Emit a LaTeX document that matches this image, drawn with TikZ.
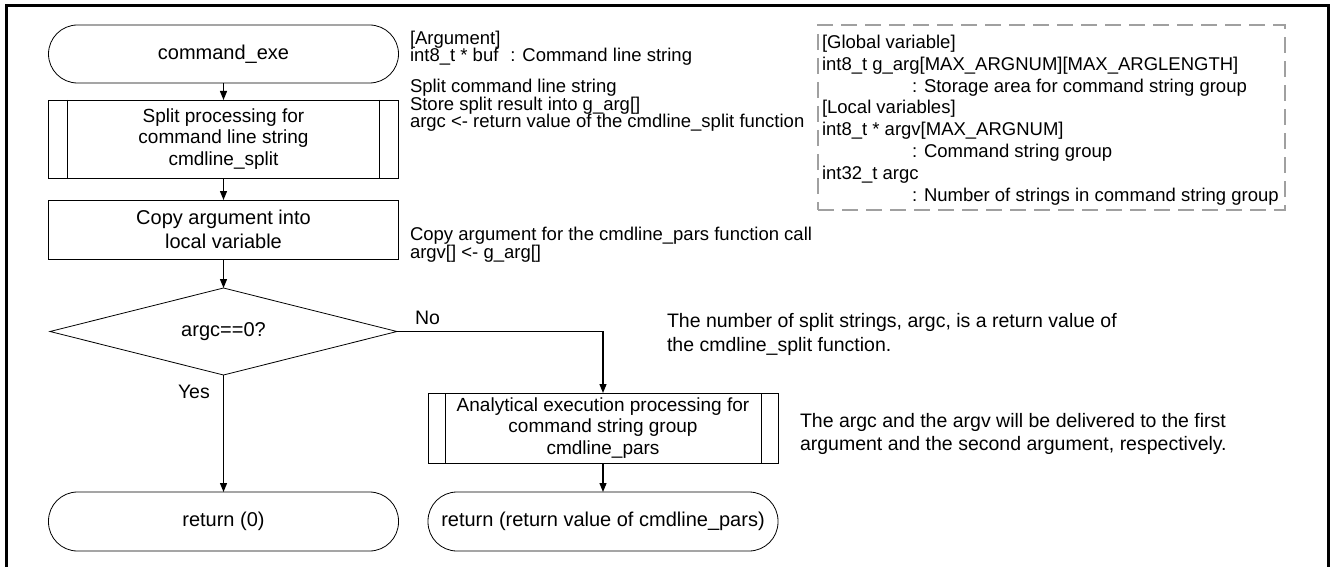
\documentclass[tikz,border=0pt]{standalone}
\usepackage{fontspec}
\setmainfont{Liberation Sans}
\usetikzlibrary{shapes.geometric,arrows.meta}
\definecolor{boxgray}{RGB}{160,160,160}
\begin{document}
\begin{tikzpicture}[x=1pt,y=-1pt,
  every node/.style={inner sep=0pt, outer sep=0pt},
  term/.style={draw, line width=0.8pt, rounded corners=29pt, minimum width=350pt, minimum height=58pt, font=\fontsize{20}{22}\selectfont, align=center},
  proc/.style={draw, line width=0.8pt, minimum width=350pt, font=\fontsize{20}{23.5}\selectfont, align=center},
  pre/.style={draw, line width=0.8pt, minimum width=350pt, font=\fontsize{19}{21.5}\selectfont, align=center},
  decision/.style={draw, diamond, aspect=4, line width=0.8pt, minimum width=347pt, minimum height=87pt, font=\fontsize{20}{22}\selectfont},
  flow/.style={line width=1.2pt, -{Triangle[length=9pt,width=7pt]}},
  note/.style={anchor=base west, font=\fontsize{18.5}{18}\selectfont},
  bignote/.style={anchor=base west, font=\fontsize{19.5}{22}\selectfont},
]
\useasboundingbox (0,0) rectangle (1330,567);
% outer frame
\draw[line width=3pt] (6.5,567) -- (6.5,5.5) -- (1328.5,5.5) -- (1328.5,567);

% flowchart nodes
\node[term] (start) at (223.5,54) {command\_exe};
\node[pre, minimum height=78pt] (split) at (223.5,139) {Split processing for\\command line string\\cmdline\_split};
\draw[line width=0.8pt] ([xshift=19pt]split.north west) -- ([xshift=19pt]split.south west);
\draw[line width=0.8pt] ([xshift=-19pt]split.north east) -- ([xshift=-19pt]split.south east);
\node[proc, minimum height=59pt] (copy) at (223.5,229.5) {Copy argument into\\local variable};
\node[decision] (cond) at (223.5,331.5) {argc==0?};
\node[term, minimum height=59pt] (ret0) at (223.5,521.5) {return (0)};
\node[pre, minimum height=70pt] (ana) at (603,428) {Analytical execution processing for\\command string group\\cmdline\_pars};
\draw[line width=0.8pt] ([xshift=17pt]ana.north west) -- ([xshift=17pt]ana.south west);
\draw[line width=0.8pt] ([xshift=-17pt]ana.north east) -- ([xshift=-17pt]ana.south east);
\node[term, minimum height=59pt] (ret1) at (603,521.5) {return (return value of cmdline\_pars)};

% connectors
\draw[flow] (start) -- (split);
\draw[flow] (split) -- (copy);
\draw[flow] (copy) -- (cond);
\draw[flow] (cond) -- (ret0);
\draw[flow] (cond.east) -| (ana.north);
\draw[flow] (ana) -- (ret1);
\node[bignote] (no) at (415,324) {No};
\node[bignote] (yes) at (178,398) {Yes};

% annotations
\node[note] (a1) at (410,45) {[Argument]};
\node[note] (a2) at (410,62) {int8\_t * buf\hspace{12pt}: Command line string};
\node[note] (b1) at (410,93) {Split command line string};
\node[note] (b2) at (410,110.5) {Store split result into g\_arg[]};
\node[note] (b3) at (410,128) {argc <- return value of the cmdline\_split function};
\node[note] (c1) at (410,240.5) {Copy argument for the cmdline\_pars function call};
\node[note] (c2) at (410,258) {argv[] <- g\_arg[]};
\node[bignote] (d1) at (667,327) {The number of split strings, argc, is a return value of};
\node[bignote] (d2) at (667,351) {the cmdline\_split function.};
\node[bignote] (e1) at (800,427) {The argc and the argv will be delivered to the first};
\node[bignote] (e2) at (800,450) {argument and the second argument, respectively.};

% variables box
\node[draw=boxgray, line width=2.5pt, dash pattern=on 16pt off 8pt, minimum width=467pt, minimum height=185pt] (gbox) at (1051.5,117.5) {};
\node[note] (g1) at (822,48.5) {[Global variable]};
\node[note] (g2) at (822,70.3) {int8\_t g\_arg[MAX\_ARGNUM][MAX\_ARGLENGTH]};
\node[note] (g3) at (912,92.1) {: Storage area for command string group};
\node[note] (g4) at (822,113.9) {[Local variables]};
\node[note] (g5) at (822,135.7) {int8\_t * argv[MAX\_ARGNUM]};
\node[note] (g6) at (912,157.5) {: Command string group};
\node[note] (g7) at (822,179.3) {int32\_t argc};
\node[note] (g8) at (912,201.1) {: Number of strings in command string group};
\end{tikzpicture}
\end{document}
